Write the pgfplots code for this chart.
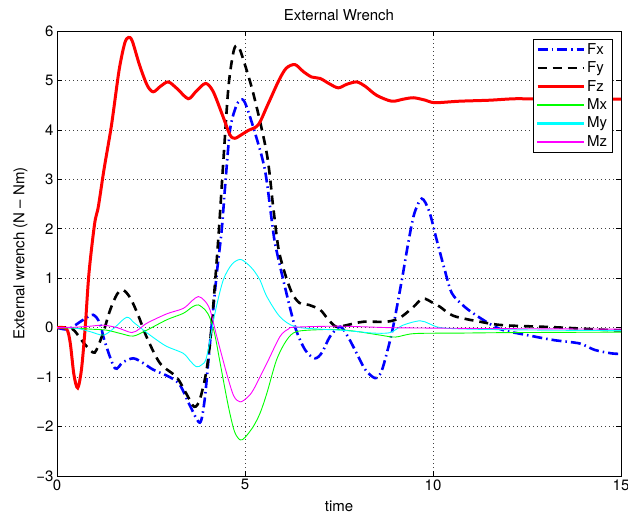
\documentclass[border=0pt]{standalone}
\usepackage{pgfplots}
\pgfplotsset{compat=1.18}
\usepackage{fontspec}
\setmainfont{TeX Gyre Heros}
\newcommand\chartfont{\fontsize{15bp}{17bp}\selectfont}
\definecolor{mgreen}{rgb}{0,1,0}
\definecolor{mcyan}{rgb}{0,1,1}
\definecolor{mmagenta}{rgb}{1,0,1}
\definecolor{mblue}{rgb}{0,0,1}
\definecolor{mred}{rgb}{1,0,0}

\tikzset{
  fxline/.style={color=mblue, line width=2.6bp, dash pattern=on 10bp off 4bp on 1.5bp off 4bp},
  fyline/.style={color=black, line width=2.6bp, dash pattern=on 9bp off 6bp},
  fzline/.style={color=mred, line width=3bp},
  mxline/.style={color=mgreen, line width=0.9bp},
  myline/.style={color=mcyan, line width=0.9bp},
  mzline/.style={color=mmagenta, line width=0.9bp},
}
% thin sample bar for the moment entries of the legend
\newcommand\thinsample[1]{\fill[#1] (0bp,-0.65bp) rectangle (46bp,0.65bp);}

\begin{document}
\begin{tikzpicture}
\begin{axis}[
  scale only axis,
  width=564bp, height=445bp,
  xmin=0, xmax=15, ymin=-3, ymax=6,
  xtick={0,5,10,15}, ytick={-3,-2,-1,0,1,2,3,4,5,6},
  yticklabels={−3,−2,−1,0,1,2,3,4,5,6},
  tick align=inside,
  major tick length=5bp,
  axis line style={line width=0.8bp},
  every tick/.style={black, line width=0.6bp},
  grid=major,
  major grid style={black!75, line width=0.6bp, dash pattern=on 0.7bp off 3.3bp},
  /pgf/number format/assume math mode=true,
  tick label style={font=\chartfont},
  label style={font=\chartfont},
  title style={font=\chartfont, yshift=1bp},
  title={External Wrench},
  xlabel={time},
  ylabel={External wrench (N – Nm)},
  xlabel style={yshift=-4bp},
  ylabel style={yshift=2bp},
  legend style={at={(0.985,0.982)}, anchor=north east, font=\chartfont,
    draw=black, line width=0.8bp, inner xsep=3bp, inner ysep=2bp,
    row sep=2bp},
  legend cell align=left,
  legend image code/.code={\draw[#1] (0bp,0bp) -- (46bp,0bp);},
  every axis plot/.append style={smooth, tension=0.5},
]
% legend samples
\addlegendimage{fxline}\addlegendentry{Fx}
\addlegendimage{fyline}\addlegendentry{Fy}
\addlegendimage{fzline}\addlegendentry{Fz}
\addlegendimage{legend image code/.code={\thinsample{mgreen}}}\addlegendentry{Mx}
\addlegendimage{legend image code/.code={\thinsample{mcyan}}}\addlegendentry{My}
\addlegendimage{legend image code/.code={\thinsample{mmagenta}}}\addlegendentry{Mz}
% forces
\addplot[fxline, forget plot] coordinates {
(0,0) (0.3,-0.03) (0.7,0.16) (0.96,0.26) (1.14,0.09) (1.27,-0.28) (1.54,-0.82) (1.75,-0.7) (2.03,-0.62) (2.3,-0.72) (2.56,-0.85) (3.0,-1.0) (3.27,-1.16) (3.55,-1.6) (3.8,-1.92) (3.92,-1.5) (4.02,-0.72) (4.11,0.02) (4.25,1.1) (4.38,1.97) (4.47,2.85) (4.6,3.99) (4.75,4.45) (4.87,4.6) (5.0,4.55) (5.27,3.93) (5.53,3.19) (5.71,2.18) (5.8,1.7) (6.02,0.96) (6.33,0.02) (6.6,-0.45) (6.86,-0.62) (7.05,-0.5) (7.26,-0.18) (7.53,0.02) (7.75,-0.2) (7.97,-0.52) (8.2,-0.85) (8.46,-1.02) (8.62,-0.9) (8.77,-0.52) (8.94,0.02) (9.17,0.96) (9.35,1.75) (9.5,2.3) (9.7,2.61) (9.9,2.35) (10.1,1.77) (10.3,1.2) (10.5,0.7) (10.8,0.45) (11.07,0.29) (11.5,0.08) (11.87,-0.05) (12.5,-0.15) (13.2,-0.25) (13.9,-0.32) (14.3,-0.45) (14.75,-0.52) (15,-0.53)
};
\addplot[fyline, forget plot] coordinates {
(0,0) (0.4,-0.02) (0.7,-0.3) (0.95,-0.5) (1.05,-0.45) (1.23,-0.1) (1.41,0.35) (1.6,0.68) (1.76,0.76) (1.95,0.6) (2.16,0.25) (2.39,-0.2) (2.74,-0.72) (3.18,-1.0) (3.45,-1.35) (3.65,-1.6) (3.8,-1.45) (3.98,-0.85) (4.11,0.02) (4.29,1.8) (4.42,3.32) (4.56,4.87) (4.7,5.6) (4.8,5.7) (4.9,5.55) (5.22,4.74) (5.58,3.52) (5.75,2.44) (5.89,1.6) (6.06,1.1) (6.25,0.7) (6.45,0.5) (6.7,0.46) (7.0,0.36) (7.2,0.18) (7.42,0.02) (7.7,0.05) (8.15,0.12) (8.77,0.12) (9.12,0.2) (9.48,0.42) (9.73,0.59) (10.0,0.5) (10.19,0.42) (10.54,0.24) (11.25,0.12) (11.87,0.05) (13.2,0.01) (14.75,-0.05) (15,-0.05)
};
\addplot[fzline, forget plot] coordinates {
(0,0) (0.25,-0.02) (0.35,-0.3) (0.45,-0.95) (0.55,-1.22) (0.65,-0.85) (0.75,0) (0.85,1.1) (1.0,2.1) (1.1,2.45) (1.25,3.2) (1.45,4.1) (1.65,5.2) (1.8,5.75) (1.9,5.87) (2.0,5.8) (2.2,5.3) (2.4,4.9) (2.56,4.77) (2.75,4.88) (2.96,4.97) (3.2,4.83) (3.49,4.63) (3.7,4.78) (3.95,4.94) (4.15,4.78) (4.4,4.3) (4.6,3.9) (4.73,3.83) (4.9,3.9) (5.09,3.99) (5.35,4.1) (5.6,4.5) (5.9,5.0) (6.1,5.25) (6.33,5.32) (6.55,5.18) (6.77,5.07) (7.0,5.04) (7.25,4.93) (7.48,4.85) (7.7,4.92) (7.97,4.97) (8.2,4.88) (8.5,4.7) (8.9,4.58) (9.2,4.62) (9.48,4.65) (9.8,4.6) (10.05,4.55) (10.7,4.58) (11.5,4.6) (12.2,4.63) (13,4.62) (14,4.62) (15,4.62)
};
% moments
\addplot[mxline, forget plot] coordinates {
(0,0) (0.5,-0.01) (0.9,-0.03) (1.32,-0.05) (1.7,-0.12) (2.03,-0.17) (2.39,-0.05) (2.92,0.16) (3.36,0.29) (3.6,0.42) (3.76,0.46) (3.95,0.35) (4.07,0.19) (4.2,-0.15) (4.34,-0.72) (4.56,-1.6) (4.72,-2.1) (4.87,-2.27) (5.0,-2.22) (5.22,-2.0) (5.4,-1.73) (5.58,-1.33) (5.84,-0.65) (6.11,-0.25) (6.37,-0.08) (7.0,-0.04) (7.5,-0.04) (8.0,-0.08) (8.59,-0.15) (9.0,-0.19) (9.5,-0.12) (10.7,-0.11) (12,-0.1) (15,-0.09)
};
\addplot[myline, forget plot] coordinates {
(0,0) (0.5,-0.01) (0.88,-0.08) (1.23,-0.15) (1.5,-0.02) (1.85,0.21) (2.05,0.1) (2.3,-0.05) (2.6,-0.22) (2.92,-0.38) (3.36,-0.52) (3.55,-0.68) (3.71,-0.79) (3.85,-0.75) (3.98,-0.59) (4.2,0.29) (4.42,0.96) (4.65,1.28) (4.87,1.38) (5.05,1.3) (5.22,1.17) (5.4,0.96) (5.58,0.63) (5.93,0.22) (6.33,0.02) (7.0,-0.03) (7.53,-0.05) (8.0,-0.08) (8.41,-0.11) (8.86,-0.1) (9.2,0.05) (9.65,0.14) (9.9,0.08) (10.2,0.0) (11,-0.03) (13,-0.05) (15,-0.06)
};
\addplot[mzline, forget plot] coordinates {
(0,0) (0.5,0.01) (0.88,0.03) (1.23,0.05) (1.6,0.0) (1.99,-0.1) (2.2,-0.02) (2.39,0.09) (2.92,0.28) (3.36,0.39) (3.6,0.55) (3.76,0.63) (3.92,0.55) (4.07,0.36) (4.25,-0.18) (4.51,-0.92) (4.7,-1.38) (4.87,-1.5) (5.05,-1.42) (5.22,-1.26) (5.58,-0.72) (5.93,-0.18) (6.15,-0.03) (6.33,0.01) (7.53,0.03) (8.86,0.0) (10.2,-0.01) (12,-0.02) (15,-0.03)
};
\end{axis}
\pgfresetboundingbox
\path[use as bounding box] (-57bp,-38bp) rectangle (571bp,476bp);
\end{tikzpicture}
\end{document}
